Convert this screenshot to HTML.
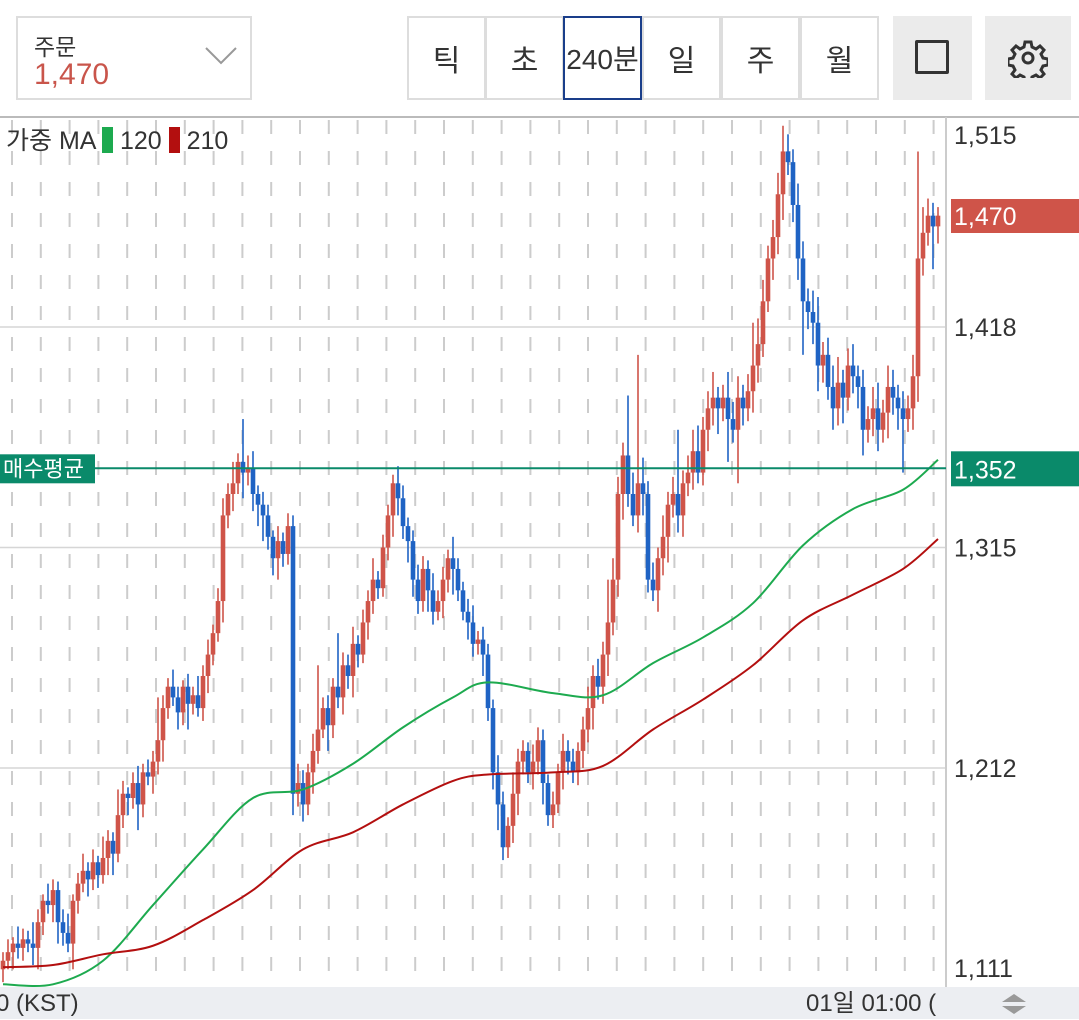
<!DOCTYPE html>
<html><head><meta charset="utf-8">
<style>
body{margin:0;width:1079px;height:1019px;overflow:hidden;background:#fff;font-family:"Liberation Sans","Noto Sans CJK KR",sans-serif;position:relative}
.box{position:absolute;box-sizing:border-box}
.btn{position:absolute;top:16px;height:84px;width:79px;box-sizing:border-box;border:2px solid #ddd;font-size:30px;color:#333;display:flex;align-items:center;justify-content:center}
</style></head><body>
<div class="box" style="left:16px;top:16px;width:236px;height:84px;border:2px solid #ddd">
 <div style="position:absolute;left:16px;top:10px;font-size:23px;color:#333">주문</div>
 <div style="position:absolute;left:16px;top:40px;font-size:30px;color:#c9554b">1,470</div>
 <svg style="position:absolute;left:186px;top:28px" width="34" height="20"><polyline points="2,2 17,17 32,2" fill="none" stroke="#999" stroke-width="2"/></svg>
</div>
<div class="btn" style="left:407px">틱</div>
<div class="btn" style="left:485px">초</div>
<div class="btn" style="left:563px;border:2px solid #1a3e8a;font-size:28px">240분</div>
<div class="btn" style="left:642px">일</div>
<div class="btn" style="left:721px">주</div>
<div class="btn" style="left:800px">월</div>
<div class="box" style="left:893px;top:16px;width:79px;height:84px;background:#ebebeb"><div style="position:absolute;left:22px;top:24px;width:34px;height:34px;border:3px solid #333;box-sizing:border-box;border-radius:2px"></div></div>
<div class="box" style="left:985px;top:16px;width:86px;height:84px;background:#ebebeb">
<svg style="position:absolute;left:23px;top:22px" width="40" height="40" viewBox="0 0 40 40"><g fill="none" stroke="#333" stroke-width="3"><circle cx="20" cy="20" r="5"/><path d="M17 4h6l1 5 4 2 4-3 4 4-3 4 2 4 5 1v6l-5 1-2 4 3 4-4 4-4-3-4 2-1 5h-6l-1-5-4-2-4 3-4-4 3-4-2-4-5-1v-6l5-1 2-4-3-4 4-4 4 3 4-2z"/></g></svg></div>
<svg id="chart" width="1079" height="1019" style="position:absolute;left:0;top:0"></svg>
<div style="position:absolute;left:6px;top:121px;font-size:25px;color:#333;white-space:nowrap">가중 MA <span style="display:inline-block;width:11px;height:26px;background:#1daa4f;vertical-align:-4px"></span> 120 <span style="display:inline-block;width:11px;height:26px;background:#b30f0f;vertical-align:-4px"></span> 210</div>
<div style="position:absolute;left:0;top:987px;width:1079px;height:32px;background:#eceef2;font-size:24px;color:#333;line-height:32px">
 <span style="position:absolute;left:-4px;top:1px">0 (KST)</span>
 <span style="position:absolute;left:806px;top:1px">01일 01:00 (</span>
 <svg style="position:absolute;left:1000px;top:6px" width="28" height="22"><polygon points="14,1 26,9 2,9" fill="#999"/><polygon points="14,21 26,13 2,13" fill="#999"/></svg>
</div>
<script>
const closes=[1122,1126,1130,1128,1132,1130,1128,1140,1150,1148,
1155,1140,1135,1130,1150,1158,1164,1160,1168,1162,
1170,1178,1172,1190,1200,1198,1205,1195,1210,1208,
1215,1225,1240,1250,1245,1238,1250,1242,1246,1240,
1255,1265,1275,1290,1330,1340,1345,1355,1350,1352,
1340,1335,1330,1320,1310,1318,1312,1325,1200,1205,
1195,1210,1220,1230,1240,1232,1250,1245,1260,1255,
1270,1265,1280,1290,1300,1296,1315,1330,1345,1338,
1325,1318,1300,1290,1305,1295,1285,1290,1300,1310,
1305,1295,1285,1280,1270,1272,1265,1240,1210,1195,
1175,1185,1200,1215,1220,1210,1215,1225,1205,1190,
1195,1210,1220,1215,1210,1220,1230,1240,1255,1250,
1265,1280,1300,1340,1358,1340,1330,1345,1340,1300,
1295,1310,1320,1335,1340,1330,1345,1350,1360,1350,
1370,1380,1385,1380,1385,1375,1370,1385,1380,1388,
1400,1410,1430,1450,1460,1480,1500,1495,1475,1450,
1430,1425,1420,1400,1405,1390,1380,1392,1385,1400,
1395,1390,1370,1375,1380,1370,1378,1390,1385,1380,
1375,1380,1395,1450,1462,1470,1465,1470];
const upWick=[4,6,3,8,5,4,10,6,3,8,
5,4,6,9,3,5,8,4,6,3,
10,5,4,12,6,3,5,8,4,6,
5,20,6,4,8,5,3,6,4,9,
5,7,4,6,8,5,10,4,20,6,
8,4,6,5,3,7,4,6,5,9,
6,4,8,30,5,6,4,25,6,5,
8,4,6,5,10,4,6,5,4,8,
6,4,5,7,6,4,8,5,6,4,
10,5,4,6,8,4,6,5,4,8,
6,4,10,6,5,4,8,6,5,4,
6,4,8,5,6,4,6,10,5,8,
6,20,10,8,6,28,10,60,12,6,
8,5,10,6,8,30,6,8,10,12,
6,8,12,5,6,12,8,10,6,8,
20,12,10,6,8,10,12,8,6,10,
8,6,10,12,6,8,10,12,6,8,
10,5,8,6,10,12,6,10,8,6,
8,6,10,50,12,8,6,4];
const dnWick=[6,4,8,5,6,4,8,10,6,4,
8,10,6,4,12,6,4,8,5,6,
4,8,10,4,6,8,5,12,6,4,
8,6,10,5,4,8,6,12,5,4,
6,8,5,4,10,6,8,5,12,6,
8,10,12,6,8,10,6,5,10,6,
8,5,10,6,4,12,6,5,8,6,
10,6,4,8,6,5,4,6,10,8,
6,10,8,6,5,10,6,4,8,6,
12,5,4,8,6,5,10,6,8,12,
6,5,8,10,6,5,8,6,10,5,
6,4,8,6,5,6,8,6,10,6,
8,10,6,8,12,6,5,8,10,6,
5,10,8,12,6,8,10,6,8,5,
6,10,8,12,6,20,6,25,8,6,
10,8,6,5,10,8,12,6,8,10,
25,8,10,12,8,6,10,8,12,6,
8,10,12,6,8,10,6,12,8,10,
25,6,10,12,8,6,20,8];
const maIdx=[0,10,20,30,40,50,60,70,80,90,97,110,120,130,140,150,160,170,180,187];
const ma120=[1111,1111,1122,1148,1174,1198,1202,1214,1231,1245,1252,1247,1246,1261,1273,1289,1316,1333,1342,1356];
const ma210=[1119,1120,1125,1129,1141,1155,1174,1182,1195,1206,1209,1210,1213,1230,1244,1260,1281,1293,1305,1319];
const priceTicks=[1418,1315,1212];
const NS='http://www.w3.org/2000/svg';
const svg=document.getElementById('chart');
const X=i=>3+i*5;
const Y=v=>327+(1418-v)*2.141;
function mk(t,a){const e=document.createElementNS(NS,t);for(const k in a)e.setAttribute(k,a[k]);svg.appendChild(e);return e;}
let e=mk('line',{x1:0,y1:117,x2:1079,y2:117,stroke:'#bbb','stroke-width':2});


for(let gx=12;gx<945;gx+=28.8){
 e=mk('line',{x1:gx,y1:120,x2:gx,y2:985,stroke:'#ccc','stroke-width':2,'stroke-dasharray':'14 17'});
 
 
}
priceTicks.forEach(p=>{
 e=mk('line',{x1:0,y1:Y(p),x2:945,y2:Y(p),stroke:'#d6d6d6','stroke-width':1.5});
 
 
});
e=mk('line',{x1:946,y1:117,x2:946,y2:987,stroke:'#ccc','stroke-width':2});


const axisLabels=[['1,515',135],['1,418',Y(1418)],['1,315',Y(1315)],['1,212',Y(1212)],['1,111',968]];
axisLabels.forEach(l=>{
 e=mk('text',{x:954,y:l[1]+9,'font-size':25,fill:'#333','font-family':'Liberation Sans, sans-serif'});
 e.textContent=l[0];
 
 
});
closes.forEach((c,i)=>{
 const o=i?closes[i-1]:c-4;
 const up=c>=o;const col=up?'#cf5449':'#1f63c4';
 const hi=Math.min(1519,Math.max(o,c)+(upWick[i]||5)),lo=Math.min(o,c)-(dnWick[i]||5);
 let w=mk('line',{x1:X(i),y1:Y(hi),x2:X(i),y2:Y(lo),stroke:col,'stroke-width':1.6});
 
 
 const top=Y(Math.max(o,c)),h=Math.max(2,Math.abs(Y(o)-Y(c)));
 let b=mk('rect',{x:X(i)-2.3,y:top,width:4.6,height:h,fill:col});
 
 
});
function maPath(arr,col,name){
 const P=arr.map((v,k)=>[X(maIdx[k]),Y(v)]);
 let d='M'+P[0][0]+' '+P[0][1];
 for(let k=0;k<P.length-1;k++){
  const p0=P[k-1]||P[k],p1=P[k],p2=P[k+1],p3=P[k+2]||p2;
  const c1=[p1[0]+(p2[0]-p0[0])/6,p1[1]+(p2[1]-p0[1])/6];
  const c2=[p2[0]-(p3[0]-p1[0])/6,p2[1]-(p3[1]-p1[1])/6];
  d+='C'+c1[0]+' '+c1[1]+' '+c2[0]+' '+c2[1]+' '+p2[0]+' '+p2[1];
 }
 let p=mk('path',{d:d,fill:'none',stroke:col,'stroke-width':2,'stroke-linejoin':'round'});
 
 
}
maPath(ma120,'#1daa4f','ma120-line');
maPath(ma210,'#b30f0f','ma210-line');
e=mk('line',{x1:0,y1:Y(1352),x2:946,y2:Y(1352),stroke:'#0a8a6a','stroke-width':2});


e=mk('rect',{x:0,y:Y(1352)-14,width:95,height:29,fill:'#0a8a6a'});


e=mk('text',{x:3,y:Y(1352)+8,'font-size':22,fill:'#fff','font-family':'Noto Sans CJK KR, sans-serif'});e.textContent='매수평균';


e=mk('rect',{x:951,y:Y(1352)-17,width:128,height:35,fill:'#0a8a6a'});


e=mk('text',{x:954,y:Y(1352)+10,'font-size':25,fill:'#fff','font-family':'Liberation Sans, sans-serif'});e.textContent='1,352';


e=mk('rect',{x:951,y:199,width:128,height:34,fill:'#cf5449'});


e=mk('text',{x:954,y:225,'font-size':25,fill:'#fff','font-family':'Liberation Sans, sans-serif'});e.textContent='1,470';


</script>
</body></html>
